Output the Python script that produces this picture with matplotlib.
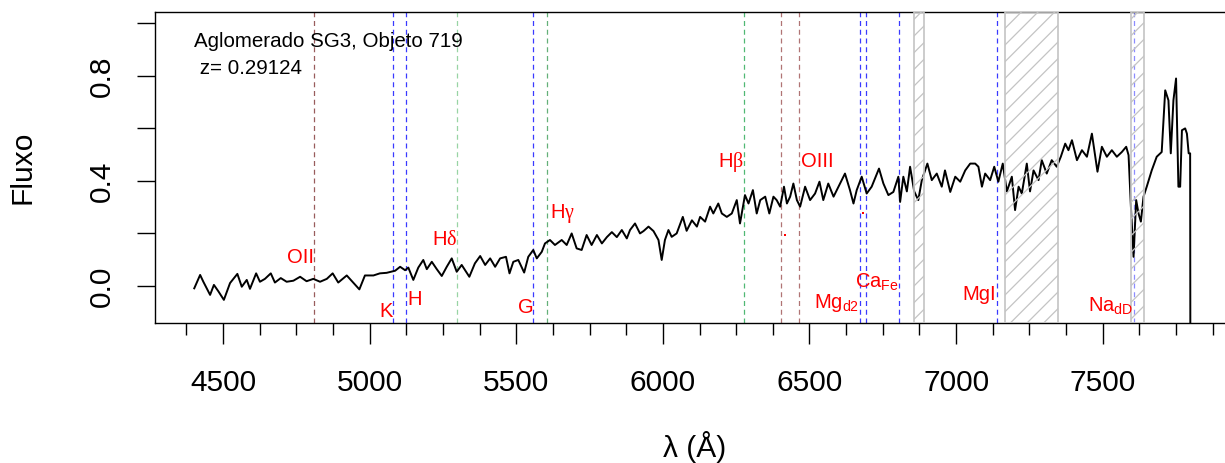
import numpy as np
import matplotlib
matplotlib.use('Agg')
from matplotlib import pyplot as plt
from matplotlib.ticker import MultipleLocator

plt.rcParams['font.family'] = ['Liberation Sans', 'DejaVu Sans']
plt.rcParams['mathtext.fontset'] = 'custom'
plt.rcParams['mathtext.rm'] = 'Liberation Sans'
plt.rcParams['mathtext.sf'] = 'Liberation Serif'
plt.rcParams['mathtext.it'] = 'Liberation Sans:italic'
plt.rcParams['hatch.linewidth'] = 0.9

# spectrum in four pieces
wl_a = [4402, 4422, 4433, 4456, 4469, 4484, 4503, 4524, 4549, 4564, 4581, 4592, 4613, 4626, 4643,
        4663, 4677, 4697, 4717, 4740, 4763, 4785, 4808, 4831, 4854, 4874, 4893, 4922, 4944, 4965,
        4984, 5013, 5035, 5058, 5087]
fx_a = [-0.009, 0.042, 0.016, -0.034, 0.004, -0.02, -0.053, 0.011, 0.046, -0.003, 0.023, -0.011,
        0.048, 0.016, 0.027, 0.048, 0.013, 0.03, 0.016, 0.02, 0.035, 0.018, 0.027, 0.016, 0.027,
        0.048, 0.013, 0.04, 0.013, -0.013, 0.04, 0.04, 0.048, 0.05, 0.058]

wl_b = [5104, 5121, 5132, 5149, 5166, 5183, 5195, 5212, 5229, 5246, 5263, 5280, 5297, 5314, 5340,
        5359, 5377, 5394, 5411, 5428, 5445, 5465, 5477, 5490, 5507, 5527, 5541, 5558, 5570, 5587,
        5598, 5615, 5632, 5655, 5672, 5689, 5706, 5723, 5740, 5757, 5775, 5792, 5809, 5826, 5843,
        5860, 5877, 5888]
fx_b = [0.073, 0.06, 0.07, 0.023, 0.07, 0.099, 0.064, 0.092, 0.064, 0.038, 0.073, 0.105, 0.054,
        0.08, 0.035, 0.086, 0.114, 0.08, 0.105, 0.073, 0.105, 0.111, 0.048, 0.092, 0.099, 0.051,
        0.111, 0.137, 0.105, 0.13, 0.162, 0.175, 0.156, 0.175, 0.156, 0.2, 0.143, 0.137, 0.194,
        0.156, 0.194, 0.162, 0.186, 0.205, 0.186, 0.213, 0.181, 0.213]

wl_c = [5905, 5922, 5934, 5951, 5968, 5985, 5996, 6007, 6019, 6030, 6047, 6068, 6081, 6099, 6116,
        6127, 6144, 6161, 6172, 6189, 6201, 6218, 6235, 6252, 6263, 6280, 6292, 6307, 6320, 6332,
        6349, 6363, 6377, 6388, 6400, 6413, 6423, 6434, 6445, 6457, 6468, 6485, 6502, 6519, 6534,
        6547, 6564, 6582, 6599, 6621, 6638, 6650, 6661, 6678, 6695, 6712, 6737, 6752, 6769, 6786,
        6803]
fx_c = [0.238, 0.2, 0.209, 0.226, 0.209, 0.175, 0.099, 0.175, 0.213, 0.187, 0.2, 0.263, 0.21,
        0.25, 0.226, 0.263, 0.245, 0.302, 0.276, 0.314, 0.276, 0.263, 0.276, 0.327, 0.238, 0.346,
        0.314, 0.365, 0.276, 0.327, 0.34, 0.276, 0.34, 0.327, 0.302, 0.378, 0.314, 0.34, 0.39,
        0.327, 0.302, 0.378, 0.327, 0.352, 0.397, 0.327, 0.39, 0.34, 0.378, 0.428, 0.365, 0.314,
        0.365, 0.416, 0.352, 0.378, 0.447, 0.39, 0.346, 0.358, 0.416]

wl_d = [6809, 6820, 6832, 6843, 6857, 6871, 6883, 6902, 6917, 6934, 6951, 6962, 6980, 6997, 7014,
        7031, 7048, 7065, 7076, 7088, 7099, 7116, 7130, 7144, 7159, 7173, 7190, 7201, 7213, 7224,
        7241, 7252, 7264, 7281, 7292, 7309, 7326, 7343, 7357, 7372, 7383, 7395, 7412, 7429, 7446,
        7463, 7482, 7497, 7514, 7531, 7548, 7565, 7580, 7588, 7596, 7605, 7614, 7622, 7630, 7639,
        7650, 7667, 7684, 7701, 7713, 7724, 7732, 7741, 7750, 7758, 7764, 7770, 7781, 7787, 7793,
        7798, 7799]
fx_d = [0.32, 0.416, 0.36, 0.454, 0.36, 0.327, 0.403, 0.466, 0.403, 0.428, 0.378, 0.44, 0.358,
        0.416, 0.397, 0.44, 0.466, 0.466, 0.454, 0.378, 0.428, 0.403, 0.454, 0.397, 0.466, 0.36,
        0.416, 0.289, 0.378, 0.352, 0.466, 0.36, 0.44, 0.403, 0.479, 0.428, 0.479, 0.454, 0.492,
        0.542, 0.517, 0.555, 0.479, 0.517, 0.492, 0.58, 0.435, 0.53, 0.492, 0.517, 0.492, 0.51,
        0.53, 0.498, 0.302, 0.111, 0.327, 0.276, 0.245, 0.34, 0.378, 0.44, 0.492, 0.51, 0.745,
        0.707, 0.505, 0.707, 0.79, 0.378, 0.378, 0.593, 0.6, 0.58, 0.505, 0.505, -0.5]

# spectral lines (observed wavelength)
line_wl = [4812, 5080, 5124, 5297, 5558, 5605, 6278, 6404, 6465, 6673, 6693, 6804, 7138, 7606]
line_col = ['#985c5c', '#3a3aff', '#3a3aff', '#98d4a4', '#3a3aff', '#64b078', '#50b874',
            '#b07474', '#b07474', '#3a3aff', '#3a3aff', '#3a3aff', '#3a3aff', '#8c8cff']

line_labels = ['OII', 'K', 'H', r'H$\mathsf{\delta}$', 'G', r'H$\mathsf{\gamma}$',
               r'H$\mathsf{\beta}$', 'OIII', r'Mg$_{\mathrm{d2}}$', r'Ca$_{\mathrm{Fe}}$', 'MgI',
               r'Na$_{\mathrm{dD}}$']
label_x = [4810, 5080, 5128, 5298, 5558, 5615, 6277, 6471, 6669, 6806, 7136, 7605]
label_y = [0.0875, -0.117, -0.072, 0.156, -0.103, 0.259, 0.452, 0.452, -0.084, -0.008, -0.053,
           -0.098]
label_ha = ['right', 'right', 'left', 'right', 'right', 'left', 'right', 'left', 'right', 'right',
            'right', 'right']

# red dots
dot_wl = [6416, 6682]
dot_fx = [0.194, 0.276]

# telluric bands (hatched)
band_lo = [6858, 7168, 7597]
band_hi = [6890, 7349, 7640]

wl = np.array(wl_a + wl_b + wl_c + wl_d)
fx = np.array(fx_a + fx_b + fx_c + fx_d)

fig = plt.figure(figsize=(12.25, 4.63), dpi=100)
ax = fig.add_axes([0.1265, 0.3024, 0.8776, 0.671])

for x, c in zip(line_wl, line_col):
    ax.axvline(x, color=c, lw=0.9, dashes=(4, 3), zorder=1)

ax.plot(wl, fx, color='black', lw=1.4, zorder=3)

for lo, hi in zip(band_lo, band_hi):
    ax.axvspan(lo, hi, facecolor='none', edgecolor='#c4c4c4', hatch='//', lw=1.2, zorder=4)

ax.plot(dot_wl, dot_fx, 's', color='red', ms=1.5, mew=0, zorder=5)

for t, x, y, ha in zip(line_labels, label_x, label_y, label_ha):
    ax.text(x, y, t, color='red', fontsize=14.5, ha=ha, va='baseline', zorder=6)

ax.text(4401, 0.909, 'Aglomerado SG3, Objeto 719', fontsize=14.8, va='baseline')
ax.text(4401, 0.806, ' z= 0.29124', fontsize=14.8, va='baseline')

ax.set_xlim(4268, 7934)
ax.set_ylim(-0.141, 1.042)

ax.set_xticks([4500, 5000, 5500, 6000, 6500, 7000, 7500])
ax.xaxis.set_minor_locator(MultipleLocator(125))
ax.set_yticks([0, 0.2, 0.4, 0.6, 0.8, 1.0])
ax.set_yticklabels(['0.0', '', '0.4', '', '0.8', ''])

ax.tick_params(axis='x', which='major', length=15, width=1, labelsize=21.5, pad=18)
ax.tick_params(axis='x', which='minor', length=8.5, width=1)
ax.tick_params(axis='y', length=13, width=1, labelsize=21.5, pad=15)
for lab in ax.get_yticklabels():
    lab.set_rotation(90)
    lab.set_va('center')

for s in ['left', 'bottom', 'top']:
    ax.spines[s].set_linewidth(1.0)
ax.spines['right'].set_visible(False)

ax.set_xlabel('λ (Å)', fontsize=21.5)
ax.xaxis.set_label_coords(0.502, -0.40)
ax.xaxis.label.set_va('center')
ax.set_ylabel('Fluxo', fontsize=21.5)
ax.yaxis.set_label_coords(-0.1233, 0.502)
ax.yaxis.label.set_va('center')

fig.savefig('out.png', dpi=100)
